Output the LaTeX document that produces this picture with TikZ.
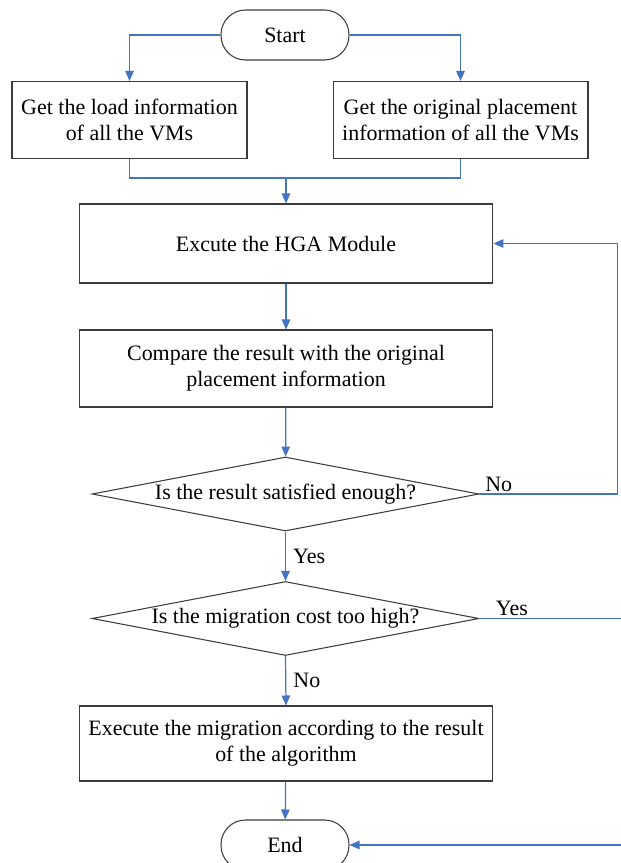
\documentclass[tikz,border=0pt]{standalone}
\usepackage{fontspec}
\setmainfont{Liberation Serif}
\usepackage{tikz}
\usetikzlibrary{shapes.geometric, arrows.meta, positioning, calc}
\definecolor{flowblue}{RGB}{68,114,196}
\definecolor{edgegray}{RGB}{60,60,60}
\tikzset{
    procbox/.style={rectangle, draw=edgegray, line width=0.6pt, minimum width=#1, minimum height=1.54cm, align=center, font=\fontsize{12.5}{14.8}\selectfont, inner sep=2pt},
    termbox/.style={rectangle, draw=edgegray, line width=0.6pt, rounded corners=0.49cm, minimum width=2.56cm, minimum height=1.0cm, font=\fontsize{12.5}{14.8}\selectfont},
    testbox/.style={diamond, draw=edgegray, line width=0.6pt, aspect=5.2, minimum width=7.74cm, minimum height=1.48cm, inner xsep=0pt, inner ysep=-2pt, font=\fontsize{12.5}{14.8}\selectfont},
    flowarrow/.style={-{Triangle[length=2mm, width=1.7mm]}, flowblue, line width=0.7pt},
    flowline/.style={flowblue, line width=0.7pt},
    flowlabel/.style={text=black, font=\fontsize{12.5}{14.8}\selectfont, inner sep=1pt}
}

\begin{document}
\begin{tikzpicture}[x=0.02cm, y=-0.02cm]
\useasboundingbox (0,0) rectangle (621,863);

\node[termbox] (start) at (285,35) {Start};
\node[procbox=4.7cm] (load) at (129.5,120) {Get the load information\\of all the VMs};
\node[procbox=5.1cm] (place) at (460.5,120) {Get the original placement\\information of all the VMs};
\node[procbox=8.28cm, minimum height=1.58cm] (hga) at (286,243.5) {Excute the HGA Module};
\node[procbox=8.28cm] (cmp) at (286,368.5) {Compare the result with the original\\placement information};
\node[testbox] (sat) at (285.5,494) {Is the result satisfied enough?};
\node[testbox] (cost) at (285.5,618.5) {Is the migration cost too high?};
\node[procbox=8.28cm, minimum height=1.5cm] (mig) at (286,743.5) {Execute the migration according to the result\\of the algorithm};
\node[termbox] (end) at (285,845) {End};

\coordinate (join) at (286,178);

\draw[flowarrow] (start.west) -| (load.north);
\draw[flowarrow] (start.east) -| (place.north);
\draw[flowline] (load.south) |- (join);
\draw[flowline] (place.south) |- (join);
\draw[flowarrow] (join) -- (hga.north);
\draw[flowarrow] (hga) -- (cmp);
\draw[flowarrow] (cmp) -- (sat);
\draw[flowarrow] (sat.east) node[above right, flowlabel, xshift=2pt] {No} -- ++(138,0) |- (hga.east);
\draw[flowarrow] (sat.south) -- node[right, flowlabel, xshift=3] {Yes} (cost.north);
\draw[flowarrow] (cost.east) node[above right, flowlabel, xshift=8pt] {Yes} -- ++(160,0) |- (end.east);
\draw[flowarrow] (cost.south) -- node[right, flowlabel, xshift=3] {No} (mig.north);
\draw[flowarrow] (mig) -- (end);

\end{tikzpicture}
\end{document}
